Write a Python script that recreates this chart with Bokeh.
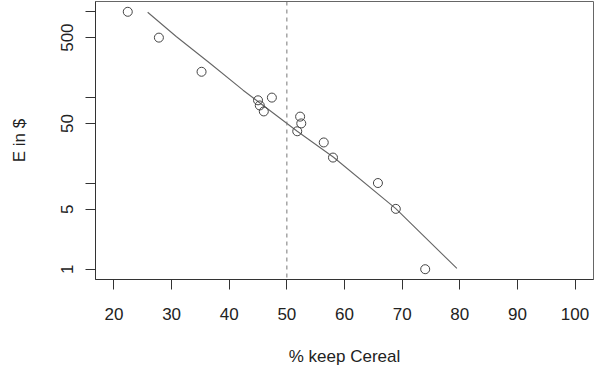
from bokeh.plotting import figure
from bokeh.models import Range1d, FixedTicker, Span
from bokeh.embed import file_html
from bokeh.resources import INLINE

# Observed points
keep_cereal = [22.4, 27.8, 35.2, 45.0, 45.3, 46.0, 47.4, 52.3, 52.5, 51.8, 56.4, 58.0, 65.8, 68.9, 74.0]
e_dollars = [1000, 500, 200, 93, 81, 69, 100, 60, 50, 40.5, 30, 20, 10.1, 5.05, 1.0]

# Fitted curve
fit_x = [25.85, 30.8, 36.6, 42.4, 51.8, 58.1, 68.9, 79.5]
fit_y = [987, 515, 253, 122, 40.5, 20.2, 5.09, 1.02]

threshold = 50

x_ticks = [20, 30, 40, 50, 60, 70, 80, 90, 100]
y_ticks = [1, 5, 10, 50, 100, 500, 1000]
y_tick_labels = ["1", "5", "", "50", "", "500", ""]

FONT = "Liberation Sans"

p = figure(width=600, height=371, y_axis_type="log",
           x_range=Range1d(16.8, 103.2), y_range=Range1d(10 ** -0.12, 10 ** 3.12),
           output_backend="svg", toolbar_location=None,
           min_border_left=95, min_border_right=7, min_border_top=1, min_border_bottom=92)

p.xgrid.visible = False
p.ygrid.visible = False
p.outline_line_color = "#666666"
p.outline_line_width = 1
p.background_fill_color = "white"
p.border_fill_color = "white"

p.xaxis.ticker = FixedTicker(ticks=x_ticks)
p.xaxis.axis_label = "% keep Cereal"
p.yaxis.ticker = FixedTicker(ticks=y_ticks)
p.yaxis.major_label_overrides = {t: l for t, l in zip(y_ticks, y_tick_labels)}
p.yaxis.axis_label = "E in $"
p.yaxis.major_label_orientation = "vertical"

for ax in (p.xaxis[0], p.yaxis[0]):
    ax.axis_line_color = "#333333"
    ax.major_tick_line_color = "#333333"
    ax.major_tick_out = 10
    ax.major_tick_in = 0
    ax.minor_tick_line_color = None
    ax.major_label_text_font = FONT
    ax.major_label_text_font_size = "17px"
    ax.major_label_text_color = "#222222"
    ax.axis_label_text_font = FONT
    ax.axis_label_text_font_size = "17px"
    ax.axis_label_text_font_style = "normal"
    ax.axis_label_text_color = "#222222"

p.xaxis.major_label_standoff = 18
p.xaxis.axis_label_standoff = 24
p.yaxis.major_label_standoff = 12
p.yaxis.axis_label_standoff = 30

p.add_layout(Span(location=threshold, dimension="height", line_color="#777777",
                  line_dash="4 4", line_width=1))

p.line(fit_x, fit_y, line_color="#666666", line_width=1.1)
p.scatter(keep_cereal, e_dollars, marker="circle", size=9, fill_color=None,
          line_color="#444444", line_width=1)

open("out.html", "w").write(file_html(p, INLINE))
